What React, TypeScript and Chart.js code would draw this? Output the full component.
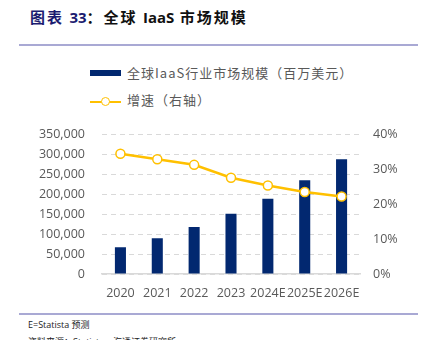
import React, { useEffect, useRef } from 'react';
import { Chart, registerables } from 'chart.js';

Chart.register(...registerables);

const categories = ['2020', '2021', '2022', '2023', '2024E', '2025E', '2026E'];
const marketSize = [67000, 90000, 118000, 151000, 189000, 235000, 288000];
const growthRate = [34.5, 32.9, 31.3, 27.6, 25.4, 23.5, 22.2];
const barLabel = '全球IaaS行业市场规模（百万美元）';
const lineLabel = '增速（右轴）';

const NAVY = '#022870';
const GOLD = '#FFC000';
const TICK = '#595959';
const FONT = '"Open Sans", "Noto Sans CJK SC", sans-serif';
const CJK = '"Noto Sans CJK SC", sans-serif';

export default function App() {
  const ref = useRef<HTMLCanvasElement | null>(null);

  useEffect(() => {
    if (!ref.current) return;
    const chart = new Chart(ref.current, {
      type: 'bar',
      data: {
        labels: categories,
        datasets: [
          {
            type: 'line',
            label: lineLabel,
            data: growthRate,
            yAxisID: 'y1',
            borderColor: GOLD,
            borderWidth: 2.5,
            pointRadius: 4.5,
            pointBackgroundColor: '#ffffff',
            pointBorderColor: GOLD,
            pointBorderWidth: 1.5,
            order: 0,
          } as any,
          {
            type: 'bar',
            label: barLabel,
            data: marketSize,
            yAxisID: 'y',
            backgroundColor: NAVY,
            barPercentage: 0.3,
            categoryPercentage: 1,
            order: 1,
          } as any,
        ],
      },
      options: {
        animation: false,
        responsive: false,
        maintainAspectRatio: false,
        layout: { padding: { top: 19, left: 0, right: 0, bottom: 0 } },
        plugins: { legend: { display: false }, tooltip: { enabled: false } },
        scales: {
          x: {
            grid: { display: false, drawTicks: false },
            border: { display: true, color: '#D9D9D9', width: 1.5 },
            ticks: {
              padding: 12,
              color: TICK,
              font: { family: FONT, size: 12.5 },
              maxRotation: 0,
              minRotation: 0,
              autoSkip: false,
            },
            afterFit: (s: any) => { s.height = 36; },
          },
          y: {
            position: 'left',
            min: 0,
            max: 350000,
            ticks: {
              stepSize: 50000,
              padding: 17,
              color: TICK,
              font: { family: FONT, size: 12.5 },
              callback: (v: any) => Number(v).toLocaleString('en-US'),
            },
            grid: { color: '#D9D9D9', drawTicks: false, lineWidth: 1 },
            border: { display: false, dash: [5, 4] },
            afterFit: (s: any) => { s.width = 102; },
          },
          y1: {
            position: 'right',
            min: 0,
            max: 40,
            ticks: {
              stepSize: 10,
              padding: 13,
              color: TICK,
              font: { family: FONT, size: 12.5 },
              callback: (v: any) => `${v}%`,
            },
            grid: { display: false, drawTicks: false },
            border: { display: false },
            afterFit: (s: any) => { s.width = 66; },
          },
        },
      } as any,
    });
    return () => chart.destroy();
  }, []);

  const cjkSpan = { letterSpacing: 2 };
  const latSpan = { fontFamily: FONT, letterSpacing: 0 };

  return (
    <div style={{ position: 'absolute', left: 0, top: 0, width: 426, height: 340, background: '#fff', overflow: 'hidden' }}>
      <div style={{ position: 'absolute', left: 30, top: 7, fontFamily: CJK, fontWeight: 700, fontSize: 15, whiteSpace: 'nowrap', lineHeight: '20px' }}>
        <span style={{ color: '#1B1B70', ...cjkSpan }}>图表 </span>
        <span style={{ color: '#1B1B70', ...latSpan }}>33</span>
        <span style={{ color: '#111', ...cjkSpan }}>：全球 </span>
        <span style={{ color: '#111', ...latSpan }}>IaaS</span>
        <span style={{ color: '#111', ...cjkSpan }}> 市场规模</span>
      </div>
      <div style={{ position: 'absolute', left: 19, top: 44, width: 399, height: 2, background: '#A9A9D4' }} />

      <div style={{ position: 'absolute', left: 90, top: 70, width: 31, height: 6, background: NAVY }} />
      <div style={{ position: 'absolute', left: 127, top: 63, fontFamily: CJK, fontSize: 13, letterSpacing: 1, color: TICK, whiteSpace: 'nowrap', lineHeight: '20px' }}>{barLabel}</div>
      <div style={{ position: 'absolute', left: 90, top: 100.5, width: 31, height: 2.5, background: GOLD }} />
      <div style={{ position: 'absolute', left: 100.5, top: 97, width: 7, height: 7, borderRadius: '50%', background: '#fff', border: `1.5px solid ${GOLD}` }} />
      <div style={{ position: 'absolute', left: 127, top: 90, fontFamily: CJK, fontSize: 13, letterSpacing: 1, color: TICK, whiteSpace: 'nowrap', lineHeight: '20px' }}>{lineLabel}</div>

      <canvas ref={ref} width={426} height={200} style={{ position: 'absolute', left: 0, top: 110, width: 426, height: 200 }} />

      <div style={{ position: 'absolute', left: 19, top: 313, width: 399, height: 1.5, background: '#A9A9D4' }} />
      <div style={{ position: 'absolute', left: 28, top: 319, fontFamily: FONT, fontSize: 9, color: '#222', whiteSpace: 'nowrap', lineHeight: '12px' }}>E=Statista 预测</div>
      <div style={{ position: 'absolute', left: 28, top: 336, fontFamily: FONT, fontSize: 9, color: '#222', whiteSpace: 'nowrap', lineHeight: '12px' }}>资料来源：Statista，海通证券研究所</div>
    </div>
  );
}
